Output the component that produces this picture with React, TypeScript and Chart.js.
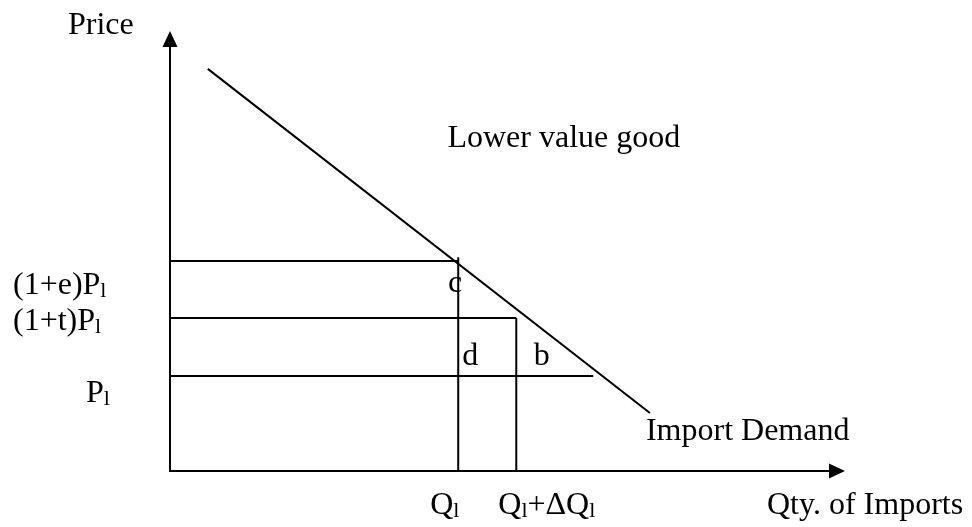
import React, { useEffect, useRef } from "react";
import { Chart, registerables } from "chart.js";

Chart.register(...registerables);

// Conceptual axis extents
const qtyAxisMax = 100;
const priceAxisMax = 100;

// Import demand curve (two end points)
const demandQty = [5.6, 71.1];
const demandPrice = [91.4, 13.2];

// Price levels: (1+e)P_l, (1+t)P_l, P_l
const priceLabels = ["(1+e)P_l", "(1+t)P_l", "P_l"];
const priceValues = [47.7, 34.8, 21.6];
const priceLineEnds = [42.7, 51.3, 62.7];

// Quantity levels: Q_l, Q_l+ΔQ_l
const qtyLabels = ["Q_l", "Q_l+ΔQ_l"];
const qtyValues = [42.7, 51.3];
const qtyLineTops = [48.6, 34.8];

// Area labels
const areaLabels = ["c", "d", "b"];
const areaQty = [41.2, 43.3, 53.9];
const areaPrice = [40.7, 24.1, 24.1];

// Titles / annotations
const yAxisTitle = "Price";
const xAxisTitle = "Qty. of Imports";
const chartNote = "Lower value good";
const curveLabel = "Import Demand";

const FONT = "32px 'Liberation Serif', 'Times New Roman', serif";
const SUB_FONT = "22px 'Liberation Serif', 'Times New Roman', serif";

function drawRich(ctx: CanvasRenderingContext2D, text: string, x: number, y: number) {
  // "_" followed by one character = subscript
  let cx = x;
  let i = 0;
  while (i < text.length) {
    if (text[i] === "_" && i + 1 < text.length) {
      ctx.font = SUB_FONT;
      ctx.fillText(text[i + 1], cx, y + 3);
      cx += ctx.measureText(text[i + 1]).width;
      i += 2;
    } else {
      let j = i;
      while (j < text.length && text[j] !== "_") j++;
      const s = text.slice(i, j);
      ctx.font = FONT;
      ctx.fillText(s, cx, y);
      cx += ctx.measureText(s).width;
      i = j;
    }
  }
}

const diagramPlugin = {
  id: "diagram",
  beforeDatasetsDraw(chart: any) {
    const ctx: CanvasRenderingContext2D = chart.ctx;
    const xs = chart.scales.x;
    const ys = chart.scales.y;
    const X = (v: number) => xs.getPixelForValue(v);
    const Y = (v: number) => ys.getPixelForValue(v);
    const ox = X(0);
    const oy = Y(0);
    const yTip = Y(priceAxisMax);
    const xTip = X(qtyAxisMax);
    const len = 16;
    const half = 7.5;
    ctx.save();
    ctx.strokeStyle = "#000";
    ctx.fillStyle = "#000";
    ctx.lineWidth = 2;
    ctx.beginPath();
    ctx.moveTo(ox, oy);
    ctx.lineTo(ox, yTip + len);
    ctx.moveTo(ox - 1, oy);
    ctx.lineTo(xTip - len, oy);
    ctx.stroke();
    ctx.beginPath();
    ctx.moveTo(ox, yTip);
    ctx.lineTo(ox - half, yTip + len);
    ctx.lineTo(ox + half, yTip + len);
    ctx.closePath();
    ctx.fill();
    ctx.beginPath();
    ctx.moveTo(xTip, oy);
    ctx.lineTo(xTip - len, oy - half);
    ctx.lineTo(xTip - len, oy + half);
    ctx.closePath();
    ctx.fill();
    ctx.restore();
  },
  afterDraw(chart: any) {
    const ctx: CanvasRenderingContext2D = chart.ctx;
    const xs = chart.scales.x;
    const ys = chart.scales.y;
    const X = (v: number) => xs.getPixelForValue(v);
    const Y = (v: number) => ys.getPixelForValue(v);
    const ox = X(0);
    const oy = Y(0);
    ctx.save();
    ctx.fillStyle = "#000";
    ctx.textBaseline = "alphabetic";
    ctx.textAlign = "left";

    // axis titles
    drawRich(ctx, yAxisTitle, ox - 102, Y(priceAxisMax) + 3);
    drawRich(ctx, xAxisTitle, X(qtyAxisMax) - 78, oy + 43);

    // note and curve label
    drawRich(ctx, chartNote, X(41.1), Y(73.6));
    drawRich(ctx, curveLabel, X(demandQty[1]) - 4, Y(demandPrice[1]) + 27);

    // price level labels (left of the axis)
    const priceOffsets = [33, 12, 26];
    const priceLefts = [13, 13, 86];
    priceLabels.forEach((lab, i) => {
      drawRich(ctx, lab, priceLefts[i], Y(priceValues[i]) + priceOffsets[i]);
    });

    // quantity labels (below the axis)
    const qtyShift = [-28, -18];
    qtyLabels.forEach((lab, i) => {
      drawRich(ctx, lab, X(qtyValues[i]) + qtyShift[i], oy + 43);
    });

    // area labels
    areaLabels.forEach((lab, i) => {
      drawRich(ctx, lab, X(areaQty[i]), Y(areaPrice[i]));
    });
    ctx.restore();
  },
};

export default function App() {
  const ref = useRef<HTMLCanvasElement | null>(null);

  useEffect(() => {
    if (!ref.current) return;
    const line = (pts: { x: number; y: number }[]) => ({
      data: pts,
      showLine: true,
      borderColor: "#000",
      backgroundColor: "#000",
      borderWidth: 2,
      pointRadius: 0,
      fill: false,
      tension: 0,
    });
    const datasets: any[] = [];
    datasets.push(line(demandQty.map((q, i) => ({ x: q, y: demandPrice[i] }))));
    priceValues.forEach((p, i) => {
      datasets.push(line([{ x: 0, y: p }, { x: priceLineEnds[i], y: p }]));
    });
    qtyValues.forEach((q, i) => {
      datasets.push(line([{ x: q, y: qtyLineTops[i] }, { x: q, y: 0 }]));
    });

    const chart = new Chart(ref.current, {
      type: "scatter",
      data: { datasets },
      options: {
        animation: false,
        responsive: false,
        devicePixelRatio: 1,
        layout: { padding: { left: 170, right: 127, top: 31, bottom: 56 } },
        plugins: { legend: { display: false }, tooltip: { enabled: false } },
        scales: {
          x: { type: "linear", min: 0, max: qtyAxisMax, display: false },
          y: { type: "linear", min: 0, max: priceAxisMax, display: false },
        },
      },
      plugins: [diagramPlugin],
    });
    return () => chart.destroy();
  }, []);

  return (
    <div style={{ position: "absolute", left: 0, top: 0, width: 972, height: 527, background: "#fff" }}>
      <canvas ref={ref} width={972} height={527} style={{ display: "block" }} />
    </div>
  );
}
